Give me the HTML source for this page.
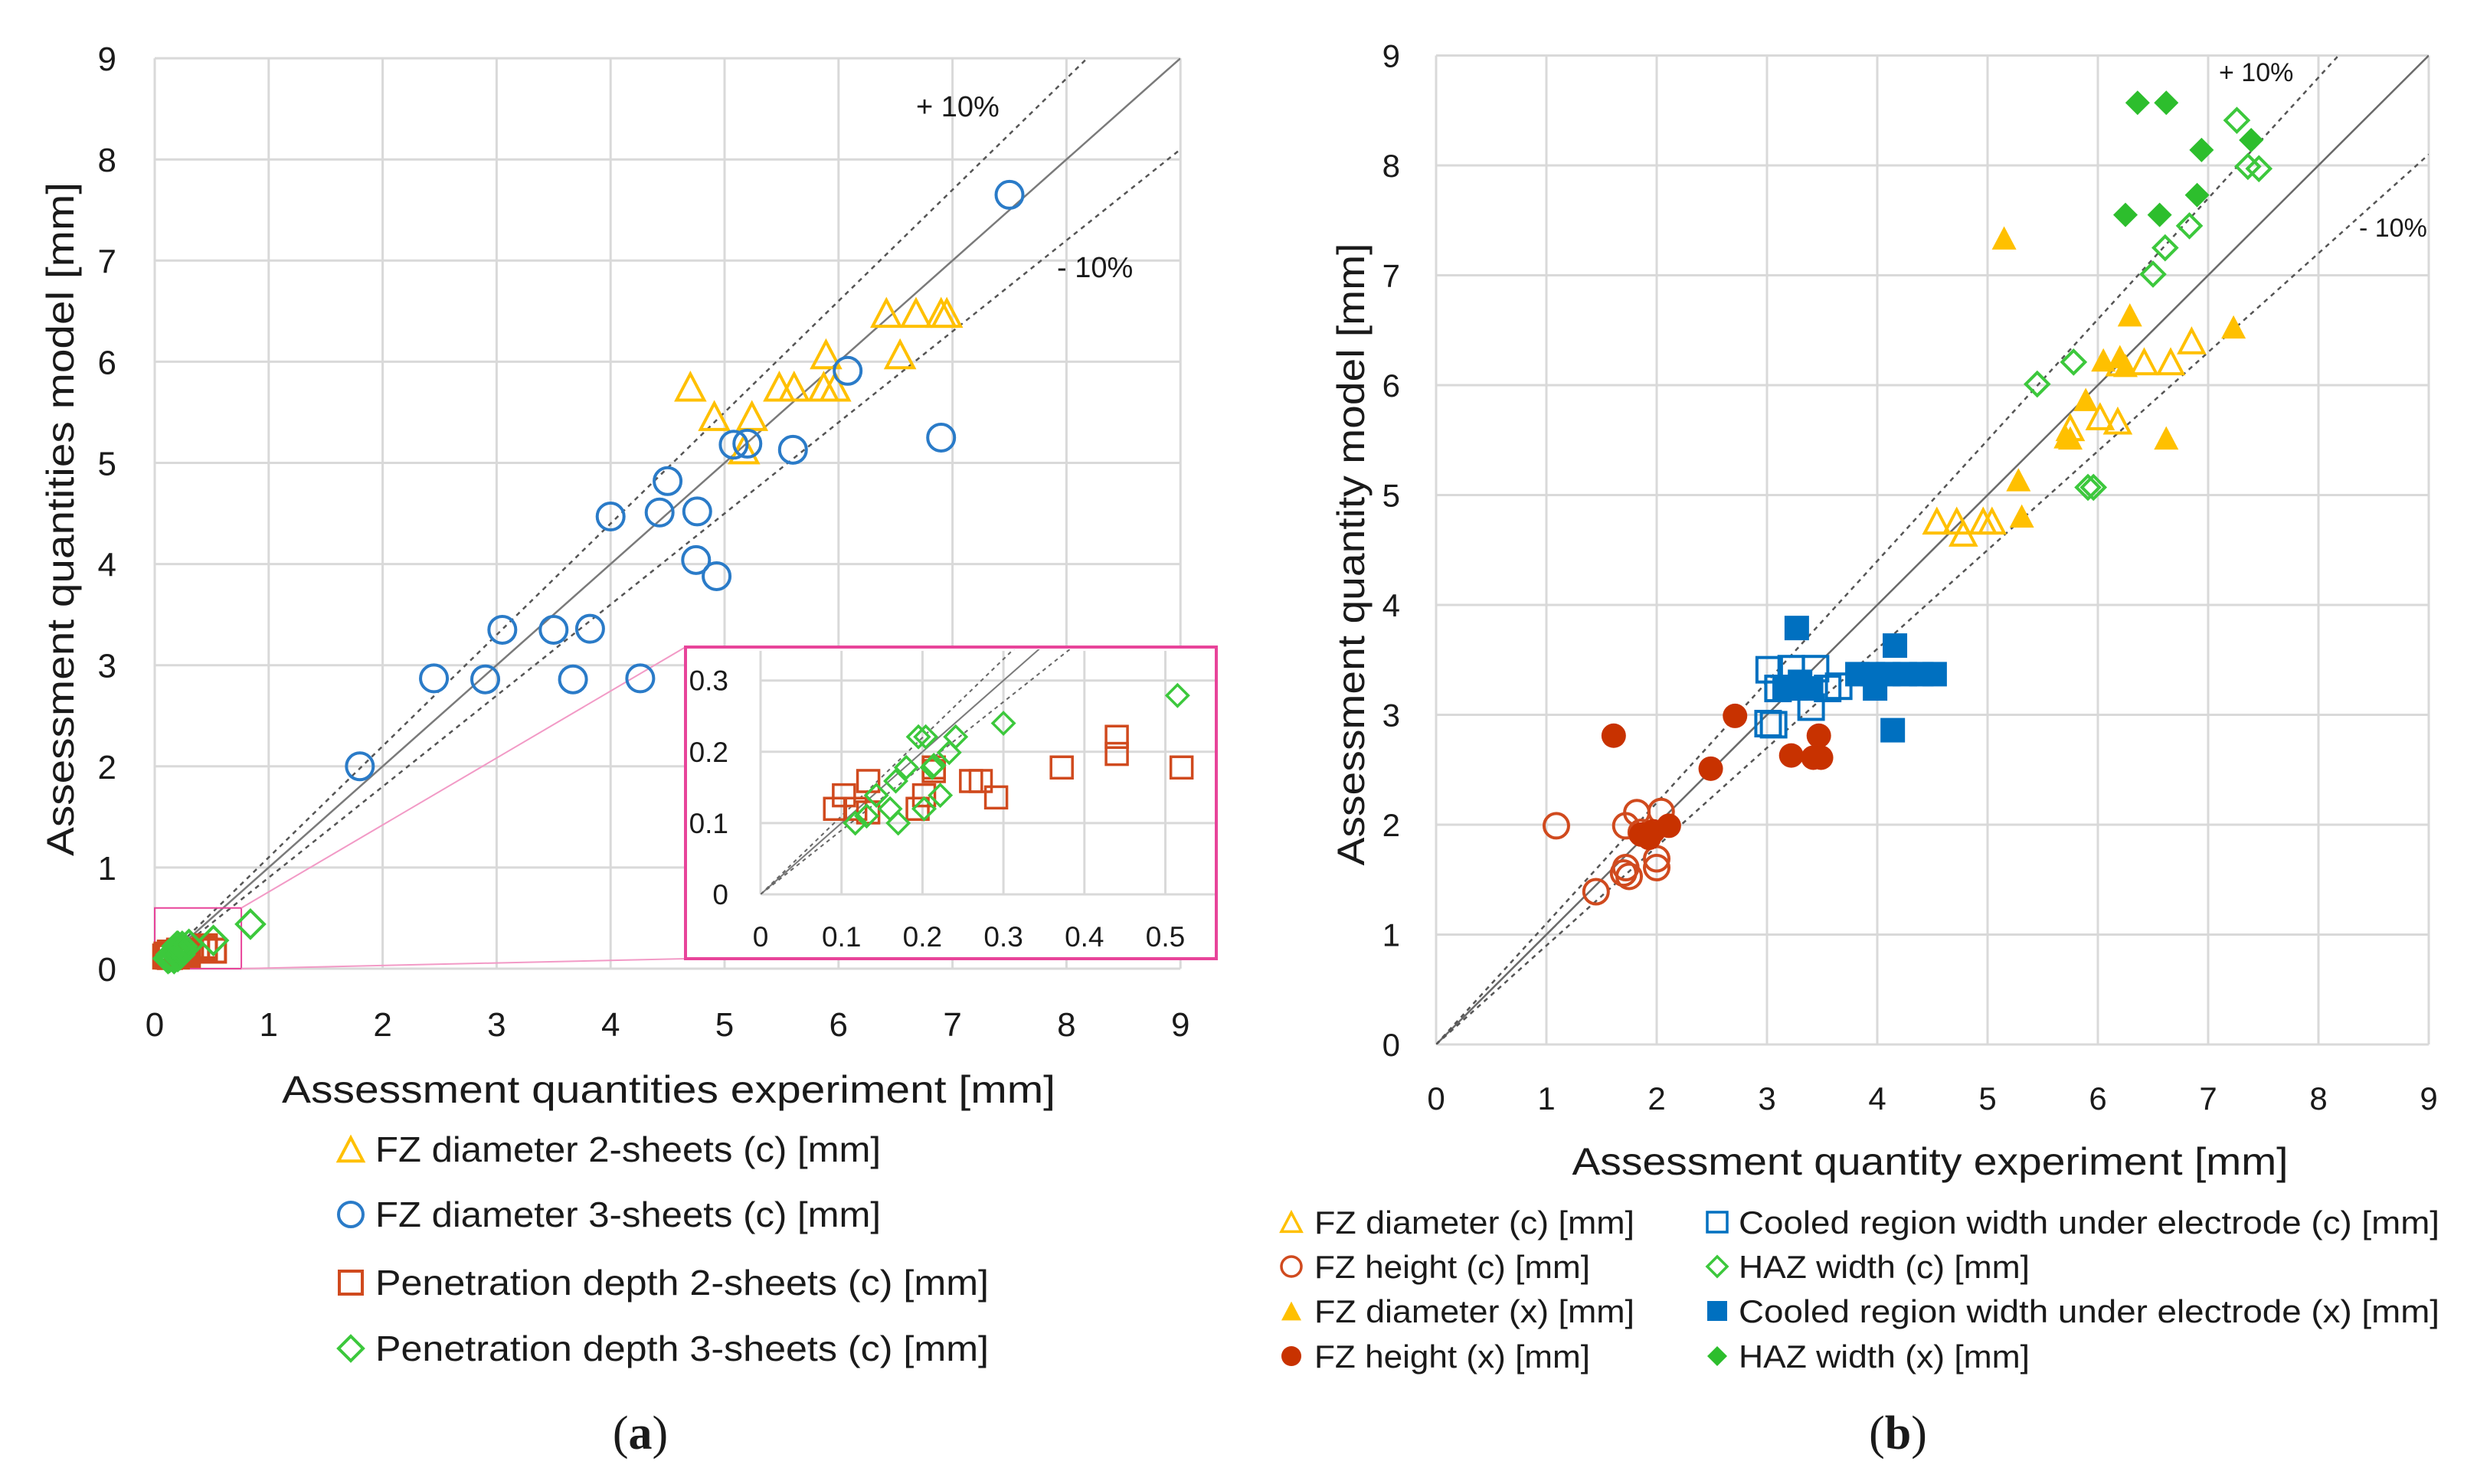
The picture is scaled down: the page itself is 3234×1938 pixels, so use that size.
<!DOCTYPE html>
<html><head><meta charset="utf-8"><style>
html,body{margin:0;padding:0;background:#fff}
svg{display:block}
text{font-family:"Liberation Sans",sans-serif;fill:#1a1a1a}
</style></head><body>
<svg id="fig" width="3234" height="1938" viewBox="0 0 3234 1938" xmlns="http://www.w3.org/2000/svg">
<defs>
<clipPath id="clipA"><rect x="202" y="76" width="1339" height="1189"/></clipPath>
<clipPath id="clipI"><rect x="993" y="848" width="593" height="320"/></clipPath>
<clipPath id="clipB"><rect x="1875" y="72" width="1296" height="1292"/></clipPath>
</defs>
<g id="chartA"></g>
<g id="chartB"></g>
<g id="labels">
<text x="79" y="678" font-size="50" text-anchor="middle" transform="rotate(-90 79 678)" textLength="880" lengthAdjust="spacingAndGlyphs" dominant-baseline="central">Assessment quantities model [mm]</text>
<text x="873" y="1440" font-size="50" text-anchor="middle" textLength="1010" lengthAdjust="spacingAndGlyphs">Assessment quantities experiment [mm]</text>
<text x="1764" y="724" font-size="50" text-anchor="middle" transform="rotate(-90 1764 724)" textLength="813" lengthAdjust="spacingAndGlyphs" dominant-baseline="central">Assessment quantity model [mm]</text>
<text x="2520" y="1534" font-size="50" text-anchor="middle" textLength="935" lengthAdjust="spacingAndGlyphs">Assessment quantity experiment [mm]</text>
<text x="836" y="1892" font-size="62" text-anchor="middle" style="font-family:'Liberation Serif',serif">(<tspan font-weight="bold">a</tspan>)</text>
<text x="2478" y="1892" font-size="62" text-anchor="middle" style="font-family:'Liberation Serif',serif">(<tspan font-weight="bold">b</tspan>)</text>
</g>
</svg>
<script>
// ---------- Chart A data ----------
const ticksA = [0,1,2,3,4,5,6,7,8,9];
const insetTicksX = [0,0.1,0.2,0.3,0.4,0.5];
const insetTicksY = [0,0.1,0.2,0.3];
const fz2X = [4.70,4.91,5.24,5.17,5.48,5.61,5.87,5.97,5.89,6.54,6.42,6.68,6.90,6.95];
const fz2Y = [5.75,5.46,5.46,5.13,5.75,5.75,5.75,5.75,6.07,6.07,6.48,6.48,6.48,6.48];
const fz3X = [1.80,2.45,2.90,3.05,3.50,3.82,3.67,4.26,4.00,4.43,4.50,4.76,4.75,4.93,5.08,5.20,5.60,6.08,6.90,7.50];
const fz3Y = [2.00,2.87,2.86,3.35,3.35,3.36,2.86,2.87,4.47,4.51,4.82,4.52,4.04,3.88,5.18,5.19,5.13,5.91,5.25,7.65];
const pen2X = [0.092,0.103,0.117,0.133,0.133,0.194,0.202,0.214,0.214,0.26,0.272,0.291,0.372,0.44,0.44,0.52];
const pen2Y = [0.12,0.139,0.12,0.159,0.115,0.12,0.139,0.178,0.173,0.159,0.159,0.136,0.178,0.221,0.197,0.178];
const pen3X = [0.117,0.131,0.143,0.16,0.17,0.167,0.18,0.195,0.204,0.202,0.212,0.214,0.222,0.233,0.241,0.30,0.515,0.84];
const pen3Y = [0.10,0.11,0.139,0.12,0.10,0.159,0.178,0.221,0.221,0.12,0.178,0.181,0.139,0.199,0.221,0.24,0.279,0.44];
// ---------- Chart B data ----------
const ticksB = [0,1,2,3,4,5,6,7,8,9];
const fzDiaCX = [6.85,6.42,6.66,6.20,6.02,6.18,5.75,4.54,4.72,4.78,4.96,5.04];
const fzDiaCY = [6.40,6.21,6.21,6.20,5.71,5.67,5.61,4.76,4.76,4.65,4.76,4.76];
const fzHCX = [1.09,1.72,1.82,2.04,1.45,1.70,1.72,2.00,2.00,1.86,1.75];
const fzHCY = [1.99,1.99,2.11,2.12,1.39,1.56,1.61,1.69,1.61,1.93,1.53];
const fzDiaXX = [5.15,6.29,7.23,6.05,6.20,6.25,5.89,5.71,6.62,5.28,5.31,5.75];
const fzDiaXY = [7.34,6.64,6.53,6.23,6.26,6.18,5.87,5.53,5.52,5.14,4.81,5.52];
const fzHXX = [1.61,2.71,2.49,3.22,3.47,3.42,3.49,2.11,1.86,1.97,1.93];
const fzHXY = [2.81,2.99,2.51,2.63,2.81,2.61,2.61,1.99,1.91,1.94,1.88];
const coolCX = [3.02,3.22,3.44,3.10,3.40,3.55,3.65,3.01,3.06];
const coolCY = [3.41,3.42,3.42,3.24,3.07,3.24,3.26,2.92,2.91];
const coolXX = [3.27,4.16,4.14,3.98,3.82,3.96,4.10,4.25,4.40,4.52,3.26,3.40,3.16,3.30];
const coolXY = [3.79,3.63,2.86,3.24,3.37,3.37,3.37,3.37,3.37,3.37,3.24,3.24,3.24,3.30];
const hazCX = [7.26,7.36,7.46,6.83,6.61,6.50,5.78,5.45,5.91,5.96];
const hazCY = [8.41,7.99,7.97,7.45,7.25,7.01,6.21,6.01,5.07,5.07];
const hazXX = [6.36,6.62,6.94,7.39,6.90,6.25,6.56];
const hazXY = [8.57,8.57,8.14,8.23,7.73,7.55,7.55];

const NS='http://www.w3.org/2000/svg';
function mk(tag, attrs, parent){const e=document.createElementNS(NS,tag);for(const k in attrs)e.setAttribute(k,attrs[k]);if(parent)parent.appendChild(e);return e;}
function marker(parent, shape, cx, cy, s, color, filled, sw){
  let e;
  const fill = filled?color:'none';
  if(shape==='circle'){e=mk('circle',{cx:cx,cy:cy,r:s/2,fill:fill,stroke:color,'stroke-width':sw},parent);}
  else if(shape==='square'){e=mk('rect',{x:cx-s/2,y:cy-s/2,width:s,height:s,fill:fill,stroke:color,'stroke-width':sw},parent);}
  else if(shape==='triangle'){const h=s*0.95;e=mk('polygon',{points:`${cx},${cy-h/2} ${cx+s/2},${cy+h/2} ${cx-s/2},${cy+h/2}`,fill:fill,stroke:color,'stroke-width':sw},parent);}
  else {const r=s/2;e=mk('polygon',{points:`${cx},${cy-r} ${cx+r},${cy} ${cx},${cy+r} ${cx-r},${cy}`,fill:fill,stroke:color,'stroke-width':sw},parent);}
  return e;
}
const YEL='#FFC000', BLU='#0070C0', BLU2='#2A7BC8', RED='#D04A1E', RED2='#C83200', GRN='#3CC83C', GRN2='#2DBE2D', PINK='#E8449A';

// ===== Chart A =====
(function(){
  const g=document.getElementById('chartA');
  const x0=202,ux=148.8,y0=1265,uy=132.1;
  const X=v=>x0+v*ux, Y=v=>y0-v*uy;
  const grid=mk('g',{},g);
  
  
  ticksA.forEach(t=>{
    mk('line',{x1:X(t),x2:X(t),y1:Y(0),y2:Y(9),stroke:'#d9d9d9','stroke-width':3},grid);
    mk('line',{x1:X(0),x2:X(9),y1:Y(t),y2:Y(t),stroke:'#d9d9d9','stroke-width':3},grid);
    const ty=mk('text',{x:152,y:Y(t)+16,'font-size':44,'text-anchor':'end'},g);ty.textContent=t;
    
    
    const tx=mk('text',{x:X(t),y:1353,'font-size':44,'text-anchor':'middle'},g);tx.textContent=t;
    
    
  });
  const lines=mk('g',{'clip-path':'url(#clipA)'},g);
  const l1=mk('line',{x1:X(0),y1:Y(0),x2:X(9),y2:Y(9),stroke:'#7a7a7a','stroke-width':2.5},lines);
  
  
  const l2=mk('line',{x1:X(0),y1:Y(0),x2:X(9/1.1),y2:Y(9),stroke:'#555','stroke-width':2.5,'stroke-dasharray':'6 6'},lines);
  
  
  const l3=mk('line',{x1:X(0),y1:Y(0),x2:X(9),y2:Y(8.1),stroke:'#555','stroke-width':2.5,'stroke-dasharray':'6 6'},lines);
  
  
  const p=mk('text',{x:1196,y:152,'font-size':38},g);p.textContent='+ 10%';
  
  
  const m=mk('text',{x:1380,y:362,'font-size':38},g);m.textContent='- 10%';
  
  
  // zoom box + connectors
  const zb=mk('rect',{x:X(0),y:Y(0.6),width:X(0.76)-X(0),height:Y(0)-Y(0.6),fill:'none',stroke:PINK,'stroke-width':2},g);
  
  
  mk('line',{x1:X(0.76),y1:Y(0.6),x2:895,y2:845,stroke:'#f29ac6','stroke-width':2},g);
  mk('line',{x1:X(0.76),y1:Y(0),x2:895,y2:1252,stroke:'#f29ac6','stroke-width':2},g);
  const pts=mk('g',{},g);
  pen2X.forEach((v,i)=>{const e=marker(pts,'square',X(v),Y(pen2Y[i]),30,RED,false,4);
    
    });
  pen3X.forEach((v,i)=>{const e=marker(pts,'diamond',X(v),Y(pen3Y[i]),36,GRN,false,4);
    
    });
  fz2X.forEach((v,i)=>{const e=marker(pts,'triangle',X(v),Y(fz2Y[i]),36,YEL,false,4);
    
    });
  fz3X.forEach((v,i)=>{const e=marker(pts,'circle',X(v),Y(fz3Y[i]),35,BLU2,false,4);
    
    });
  // ---- inset ----
  const ig=mk('g',{},g);
  
  
  mk('rect',{x:895,y:845,width:693,height:407,fill:'#fff',stroke:PINK,'stroke-width':4},ig);
  const ix0=993,iux=1057,iy0=1168,iuy=931;
  const IX=v=>ix0+v*iux, IY=v=>iy0-v*iuy;
  insetTicksX.forEach(t=>{
    mk('line',{x1:IX(t),x2:IX(t),y1:iy0,y2:850,stroke:'#d9d9d9','stroke-width':3},ig);
    const tx=mk('text',{x:IX(t),y:1236,'font-size':37,'text-anchor':'middle'},ig);tx.textContent=t;
    
    
  });
  insetTicksY.forEach(t=>{
    mk('line',{x1:ix0,x2:1586,y1:IY(t),y2:IY(t),stroke:'#d9d9d9','stroke-width':3},ig);
    const ty=mk('text',{x:951,y:IY(t)+13,'font-size':37,'text-anchor':'end'},ig);ty.textContent=t;
    
    
  });
  const il=mk('g',{'clip-path':'url(#clipI)'},ig);
  mk('line',{x1:IX(0),y1:IY(0),x2:IX(0.4),y2:IY(0.4),stroke:'#7a7a7a','stroke-width':2},il);
  mk('line',{x1:IX(0),y1:IY(0),x2:IX(0.4/1.1),y2:IY(0.4),stroke:'#666','stroke-width':2,'stroke-dasharray':'5 5'},il);
  mk('line',{x1:IX(0),y1:IY(0),x2:IX(0.4),y2:IY(0.36),stroke:'#666','stroke-width':2,'stroke-dasharray':'5 5'},il);
  pen2X.forEach((v,i)=>{const e=marker(il,'square',IX(v),IY(pen2Y[i]),28,RED,false,3.5);
    
    });
  pen3X.forEach((v,i)=>{const e=marker(il,'diamond',IX(v),IY(pen3Y[i]),28,GRN,false,3.5);
    
    });
  // legend
  const leg=mk('g',{},g);
  
  
  const items=[['triangle',YEL,'FZ diameter 2-sheets (c) [mm]',660],['circle',BLU2,'FZ diameter 3-sheets (c) [mm]',660],['square',RED,'Penetration depth 2-sheets (c) [mm]',801],['diamond',GRN,'Penetration depth 3-sheets (c) [mm]',801]];
  const rows=[1501,1586,1675,1761];
  items.forEach((it,i)=>{
    const mkr=marker(leg,it[0],458,rows[i],it[0]==='square'?30:32,it[1],false,4);
    
    
    const t=mk('text',{x:490,y:rows[i]+16,'font-size':46,textLength:it[3],lengthAdjust:'spacingAndGlyphs'},leg);t.textContent=it[2];
    
    
  });
})();

// ===== Chart B =====
(function(){
  const g=document.getElementById('chartB');
  const x0=1875,ux=144,y0=1364,uy=143.5;
  const X=v=>x0+v*ux, Y=v=>y0-v*uy;
  const grid=mk('g',{},g);
  
  
  ticksB.forEach(t=>{
    mk('line',{x1:X(t),x2:X(t),y1:Y(0),y2:Y(9),stroke:'#d9d9d9','stroke-width':3},grid);
    mk('line',{x1:X(0),x2:X(9),y1:Y(t),y2:Y(t),stroke:'#d9d9d9','stroke-width':3},grid);
    const ty=mk('text',{x:1828,y:Y(t)+15,'font-size':42,'text-anchor':'end'},g);ty.textContent=t;
    
    
    const tx=mk('text',{x:X(t),y:1449,'font-size':42,'text-anchor':'middle'},g);tx.textContent=t;
    
    
  });
  const lines=mk('g',{'clip-path':'url(#clipB)'},g);
  const l1=mk('line',{x1:X(0),y1:Y(0),x2:X(9),y2:Y(9),stroke:'#6a6a6a','stroke-width':2.5},lines);
  
  
  const l2=mk('line',{x1:X(0),y1:Y(0),x2:X(9/1.1),y2:Y(9),stroke:'#555','stroke-width':2.5,'stroke-dasharray':'6 6'},lines);
  
  
  const l3=mk('line',{x1:X(0),y1:Y(0),x2:X(9),y2:Y(8.1),stroke:'#555','stroke-width':2.5,'stroke-dasharray':'6 6'},lines);
  
  
  const p=mk('text',{x:2897,y:106,'font-size':34},g);p.textContent='+ 10%';
  
  
  const m=mk('text',{x:3080,y:309,'font-size':34},g);m.textContent='- 10%';
  
  
  const pts=mk('g',{},g);
  const S=32;
  fzHCX.forEach((v,i)=>{const e=marker(pts,'circle',X(v),Y(fzHCY[i]),S,RED,false,4);
    
    });
  fzHXX.forEach((v,i)=>{const e=marker(pts,'circle',X(v),Y(fzHXY[i]),S,RED2,true,0);
    
    });
  coolCX.forEach((v,i)=>{const e=marker(pts,'square',X(v),Y(coolCY[i]),S,BLU,false,4);
    
    });
  coolXX.forEach((v,i)=>{const e=marker(pts,'square',X(v),Y(coolXY[i]),S,BLU,true,0);
    
    });
  fzDiaCX.forEach((v,i)=>{const e=marker(pts,'triangle',X(v),Y(fzDiaCY[i]),S,YEL,false,4);
    
    });
  fzDiaXX.forEach((v,i)=>{const e=marker(pts,'triangle',X(v),Y(fzDiaXY[i]),S,YEL,true,0);
    
    });
  hazCX.forEach((v,i)=>{const e=marker(pts,'diamond',X(v),Y(hazCY[i]),30,GRN,false,4);
    
    });
  hazXX.forEach((v,i)=>{const e=marker(pts,'diamond',X(v),Y(hazXY[i]),32,GRN2,true,0);
    
    });
  const leg=mk('g',{},g);
  
  
  const rows=[1596,1654,1712,1771];
  const items=[
    [1686,1716,0,'triangle',YEL,false,'FZ diameter (c) [mm]',418],
    [1686,1716,1,'circle',RED,false,'FZ height (c) [mm]',360],
    [1686,1716,2,'triangle',YEL,true,'FZ diameter (x) [mm]',418],
    [1686,1716,3,'circle',RED2,true,'FZ height (x) [mm]',360],
    [2242,2270,0,'square',BLU,false,'Cooled region width under electrode (c) [mm]',915],
    [2242,2270,1,'diamond',GRN,false,'HAZ width (c) [mm]',380],
    [2242,2270,2,'square',BLU,true,'Cooled region width under electrode (x) [mm]',915],
    [2242,2270,3,'diamond',GRN2,true,'HAZ width (x) [mm]',380]];
  items.forEach(it=>{
    const y=rows[it[2]];
    const mkr=marker(leg,it[3],it[0],y,26,it[4],it[5],it[5]?0:3.5);
    
    
    const t=mk('text',{x:it[1],y:y+15,'font-size':42,textLength:it[7],lengthAdjust:'spacingAndGlyphs'},leg);t.textContent=it[6];
    
    
  });
})();
</script>
</body></html>
